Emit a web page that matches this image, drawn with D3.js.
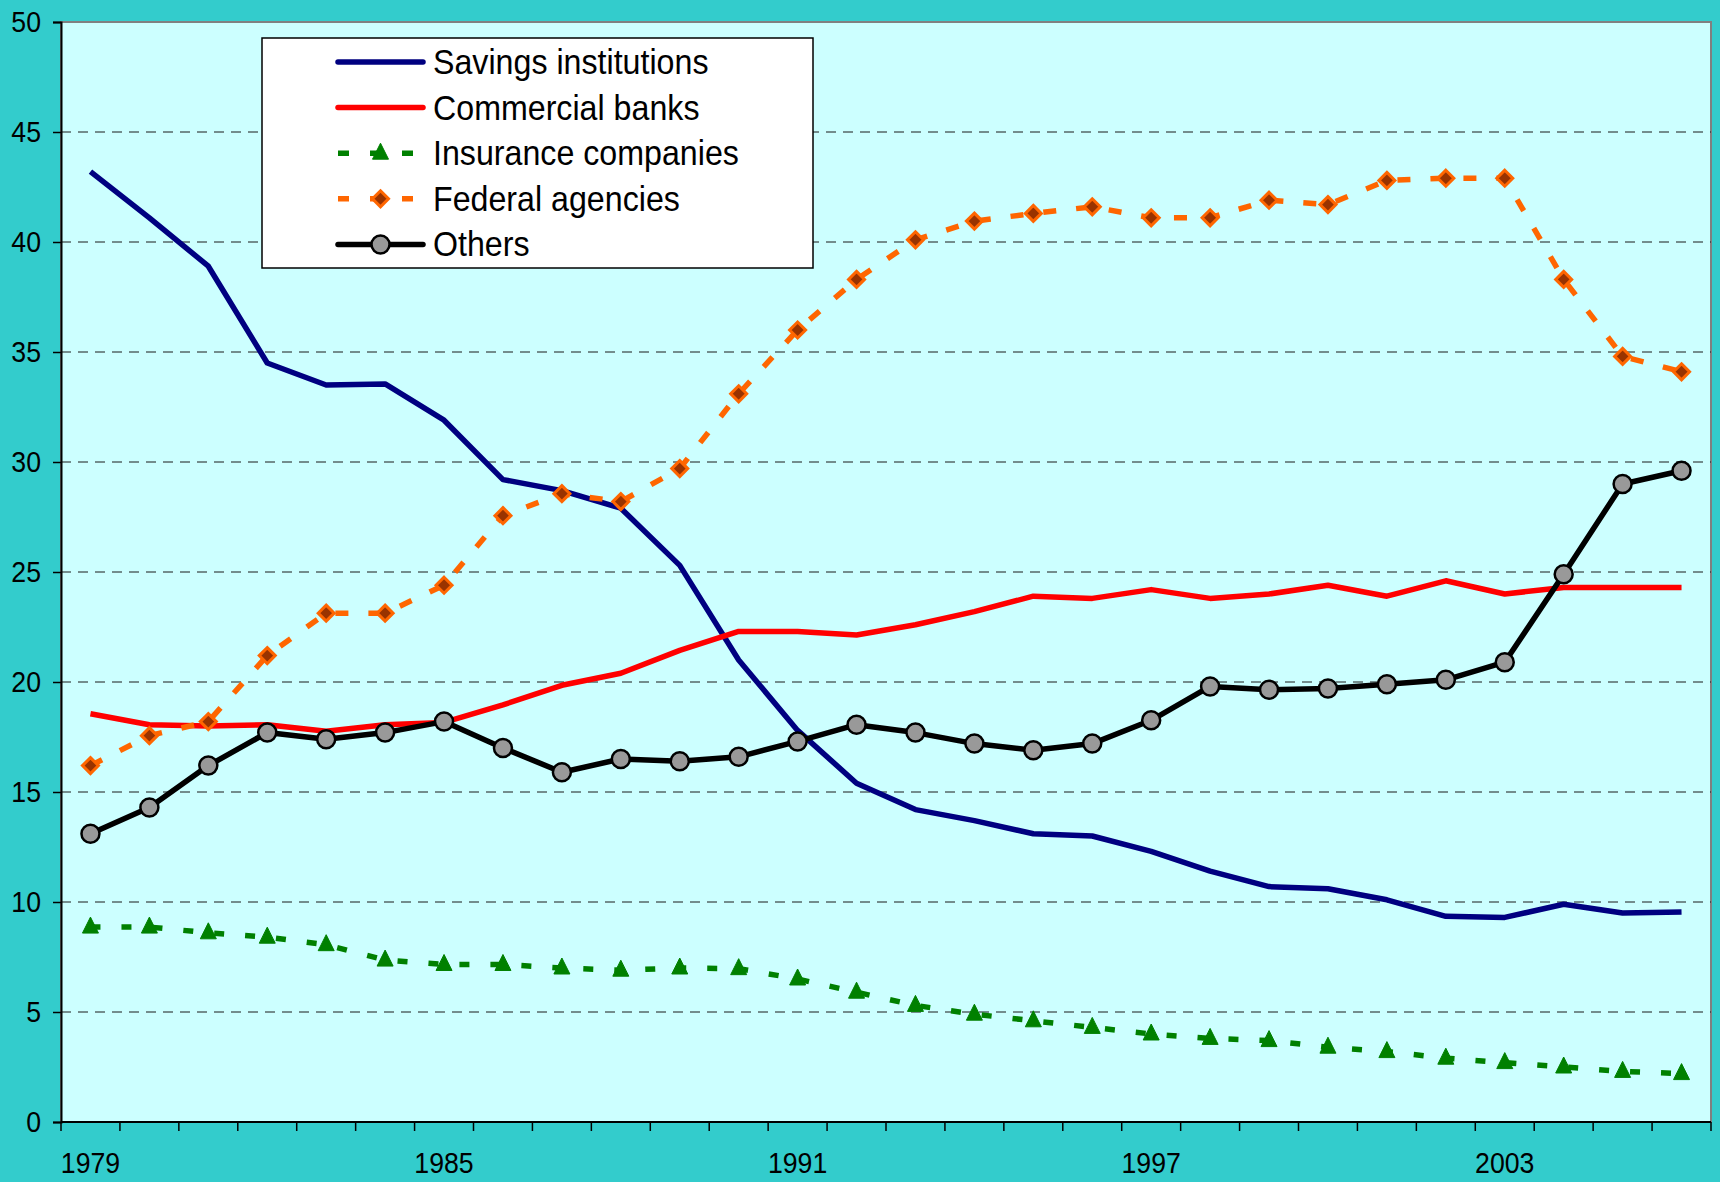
<!DOCTYPE html>
<html>
<head>
<meta charset="utf-8">
<script src="https://cdn.jsdelivr.net/npm/d3@7"></script>
<style>
  html, body { margin: 0; padding: 0; background: #33cccc; }
  svg { display: block; }
  text { font-family: "Liberation Sans", Arial, sans-serif; fill: #000; }
</style>
</head>
<body>
<div class="graph"></div>
<script>
var years = [1979, 1980, 1981, 1982, 1983, 1984, 1985, 1986, 1987, 1988, 1989, 1990, 1991, 1992,
             1993, 1994, 1995, 1996, 1997, 1998, 1999, 2000, 2001, 2002, 2003, 2004, 2005, 2006];
var yearLabels = [1979, 1985, 1991, 1997, 2003];
var yTicks = [0, 5, 10, 15, 20, 25, 30, 35, 40, 45, 50];

var savings = [43.2, 41.1, 38.9, 34.5, 33.5, 33.55, 31.9, 29.2, 28.7, 27.9, 25.3, 21.0, 17.8, 15.4,
               14.2, 13.7, 13.1, 13.0, 12.3, 11.4, 10.7, 10.6, 10.1, 9.35, 9.3, 9.9, 9.5, 9.55];
var commercial = [18.56, 18.06, 18.0, 18.06, 17.76, 18.06, 18.16, 18.96, 19.85, 20.4, 21.44, 22.3, 22.3, 22.14,
                  22.6, 23.2, 23.9, 23.8, 24.2, 23.8, 24.0, 24.4, 23.9, 24.6, 24.0, 24.3, 24.3, 24.3];
var insurance = [8.86, 8.86, 8.6, 8.4, 8.06, 7.36, 7.16, 7.16, 7.0, 6.9, 7.0, 6.97, 6.5, 5.9,
                 5.3, 4.9, 4.6, 4.3, 4.0, 3.8, 3.7, 3.4, 3.2, 2.9, 2.7, 2.5, 2.3, 2.2];
var federal = [16.2, 17.56, 18.2, 21.2, 23.13, 23.13, 24.4, 27.56, 28.56, 28.2, 29.7, 33.1, 36.0, 38.3,
               40.1, 40.95, 41.3, 41.6, 41.1, 41.1, 41.9, 41.7, 42.8, 42.9, 42.9, 38.3, 34.8, 34.1];
var others = [13.1, 14.3, 16.2, 17.7, 17.4, 17.7, 18.2, 17.0, 15.9, 16.5, 16.4, 16.6, 17.3, 18.06,
              17.7, 17.2, 16.9, 17.2, 18.26, 19.8, 19.65, 19.7, 19.9, 20.1, 20.9, 24.9, 29.0, 29.6];

var series = [
    {name: "Savings institutions", values: savings, color: "#000080", dash: null, marker: null},
    {name: "Commercial banks", values: commercial, color: "#ff0000", dash: null, marker: null},
    {name: "Insurance companies", values: insurance, color: "#008000", dash: "10,21", marker: "triangle"},
    {name: "Federal agencies", values: federal, color: "#ff6600", dash: "13,20", marker: "diamond"},
    {name: "Others", values: others, color: "#000000", dash: null, marker: "circle"}
];

const WIDTH = 1720;
const HEIGHT = 1182;
const LEFT = 61, TOP = 22, RIGHT = 1711, BOTTOM = 1122;
const SQUEEZE = 0.92; // text in the original looks a bit condensed

var x = d3.scaleBand().domain(years).range([LEFT, RIGHT]);
var y = d3.scaleLinear().domain([0, 50]).range([BOTTOM, TOP]);
var cx = function (i) { return x(years[i]) + x.bandwidth() / 2; };

var svg = d3.select(".graph").append("svg")
    .attr("width", WIDTH)
    .attr("height", HEIGHT);

svg.append("rect").attr("width", WIDTH).attr("height", HEIGHT).attr("fill", "#33cccc");
svg.append("rect")
    .attr("x", LEFT).attr("y", TOP)
    .attr("width", RIGHT - LEFT).attr("height", BOTTOM - TOP)
    .attr("fill", "#ccffff")
    .attr("stroke", "#808080")
    .attr("stroke-width", 2);

// dashed grid
svg.append("g").selectAll("line")
    .data(yTicks.filter(function (d) { return d > 0 && d < 50; }))
    .enter().append("line")
    .attr("x1", LEFT).attr("x2", RIGHT)
    .attr("y1", function (d) { return y(d); })
    .attr("y2", function (d) { return y(d); })
    .attr("stroke", "#1a1a1a")
    .attr("stroke-width", 1)
    .attr("stroke-dasharray", "10,7");

// y axis
var yAxis = d3.axisLeft(y).tickValues(yTicks).tickSize(8).tickPadding(12).tickFormat(d3.format("d"));
var gy = svg.append("g").attr("transform", "translate(" + LEFT + ",0)").call(yAxis);
gy.select(".domain").attr("stroke", "#000").attr("stroke-width", 2);
gy.selectAll(".tick line").attr("stroke", "#000").attr("stroke-width", 1.5);
gy.selectAll(".tick text")
    .attr("font-size", 29)
    .attr("x", -20 / SQUEEZE)
    .attr("transform", "scale(" + SQUEEZE + ",1)")
    .style("font-family", null);

// x axis: ticks between categories
var xAxisG = svg.append("g").attr("transform", "translate(0," + BOTTOM + ")");
xAxisG.append("line").attr("x1", LEFT).attr("x2", RIGHT).attr("stroke", "#000").attr("stroke-width", 2);
xAxisG.selectAll(".tk")
    .data(years.concat([null]))
    .enter().append("line")
    .attr("class", "tk")
    .attr("x1", function (d, i) { return i < years.length ? x(d) : RIGHT; })
    .attr("x2", function (d, i) { return i < years.length ? x(d) : RIGHT; })
    .attr("y1", 0).attr("y2", 9)
    .attr("stroke", "#000").attr("stroke-width", 1.5);
xAxisG.selectAll(".lbl")
    .data(yearLabels)
    .enter().append("g")
    .attr("class", "lbl")
    .attr("transform", function (d) { return "translate(" + (x(d) + x.bandwidth() / 2) + ",51) scale(" + SQUEEZE + ",1)"; })
    .append("text")
    .attr("text-anchor", "middle")
    .attr("font-size", 29)
    .text(function (d) { return d; });

var line = d3.line()
    .x(function (d, i) { return cx(i); })
    .y(function (d) { return y(d); });

var drawMarker = function (g, type, px, py) {
    if (type === "circle") {
        g.append("circle").attr("cx", px).attr("cy", py).attr("r", 9)
            .attr("fill", "#999999").attr("stroke", "#000").attr("stroke-width", 2.5);
    } else if (type === "diamond") {
        g.append("path")
            .attr("d", "M" + px + "," + (py - 8) + "L" + (px + 8) + "," + py + "L" + px + "," + (py + 8) + "L" + (px - 8) + "," + py + "Z")
            .attr("fill", "#993300").attr("stroke", "#ff6600").attr("stroke-width", 3);
    } else if (type === "triangle") {
        g.append("path")
            .attr("d", "M" + px + "," + (py - 10) + "L" + (px + 8) + "," + (py + 6) + "L" + (px - 8) + "," + (py + 6) + "Z")
            .attr("fill", "#008000").attr("stroke", "#008000").attr("stroke-width", 1);
    }
};

series.forEach(function (s) {
    var g = svg.append("g");
    g.append("path")
        .datum(s.values)
        .attr("d", line)
        .attr("fill", "none")
        .attr("stroke", s.color)
        .attr("stroke-width", 5.5)
        .attr("stroke-linejoin", "round")
        .attr("stroke-dasharray", s.dash);
    if (s.marker) {
        s.values.forEach(function (v, i) { drawMarker(g, s.marker, cx(i), y(v)); });
    }
});

// legend
var lg = svg.append("g");
lg.append("rect")
    .attr("x", 262).attr("y", 38).attr("width", 551).attr("height", 230)
    .attr("fill", "#fff").attr("stroke", "#000").attr("stroke-width", 1.5);
series.forEach(function (s, i) {
    var ly = 62 + i * 45.6;
    lg.append("line")
        .attr("x1", 338).attr("x2", 423).attr("y1", ly).attr("y2", ly)
        .attr("stroke", s.color).attr("stroke-width", 5.5)
        .attr("stroke-linecap", s.dash ? "butt" : "round")
        .attr("stroke-dasharray", s.dash ? "11,21" : null);
    if (s.marker) drawMarker(lg, s.marker, 380.5, ly);
    lg.append("g")
        .attr("transform", "translate(433," + (ly + 12) + ") scale(" + SQUEEZE + ",1)")
        .append("text")
        .attr("font-size", 35)
        .text(s.name);
});
</script>
</body>
</html>
